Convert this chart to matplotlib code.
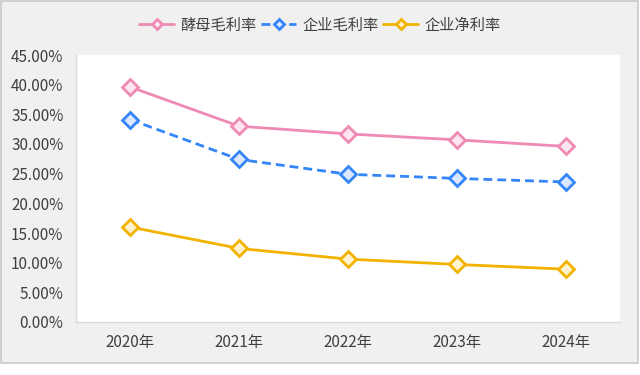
import matplotlib
matplotlib.use('Agg')
import matplotlib.pyplot as plt
from matplotlib.patches import Rectangle
from matplotlib.ticker import FuncFormatter, MultipleLocator

plt.rcParams['font.family'] = ['Noto Sans CJK SC', 'DejaVu Sans']

# data
years = ['2020年', '2021年', '2022年', '2023年', '2024年']
yeast_margin = [39.6, 33.0, 31.7, 30.7, 29.6]
company_margin = [34.1, 27.4, 24.9, 24.2, 23.6]
company_net = [16.0, 12.4, 10.6, 9.7, 8.9]

series = [
    ('酵母毛利率', yeast_margin, '#ee8ab4', '#fde6ef', '-'),
    ('企业毛利率', company_margin, '#3385f8', '#dbe8ff', '--'),
    ('企业净利率', company_net, '#f2b300', '#fff2cc', '-'),
]

fig = plt.figure(figsize=(6.4, 3.75), dpi=100)
fig.patch.set_facecolor('white')
# gray chart panel with thin border
fig.patches.append(Rectangle((1 / 640, 1 - 363 / 375), 637 / 640, 362 / 375,
                             transform=fig.transFigure, facecolor='#f0f0f0',
                             edgecolor='#c8c8c8', linewidth=1.2, zorder=-10))

ax = fig.add_axes([76 / 640, 1 - 322 / 375, 544 / 640, 267 / 375])
ax.set_facecolor('white')

x = list(range(len(years)))
for name, vals, col, fill, ls in series:
    line, = ax.plot(x, vals, color=col, linewidth=2.0, linestyle=ls,
                    marker='D', markersize=8, markerfacecolor=fill,
                    markeredgecolor=col, markeredgewidth=2.0, label=name,
                    solid_capstyle='round', clip_on=False, zorder=3)
    if ls == '--':
        line.set_dashes((3.2, 1.8))

ax.set_xlim(-0.5, len(years) - 0.5)
ax.set_ylim(0, 45)
ax.yaxis.set_major_locator(MultipleLocator(5))
ax.yaxis.set_major_formatter(FuncFormatter(lambda v, p: f'{v:.2f}%'))
ax.set_xticks(x)
ax.set_xticklabels(years)
ax.tick_params(axis='both', length=0, labelsize=11, labelcolor='#404040')
ax.tick_params(axis='y', pad=9)
ax.tick_params(axis='x', pad=9)

for s in ['top', 'right']:
    ax.spines[s].set_visible(False)
for s in ['left', 'bottom']:
    ax.spines[s].set_color('#d9d9d9')
    ax.spines[s].set_linewidth(1.0)

leg = fig.legend(loc='center', bbox_to_anchor=(320 / 640, 1 - 25 / 375), ncol=3,
                 frameon=False, fontsize=11, handlelength=2.3, handletextpad=0.4,
                 columnspacing=0.3, markerscale=0.65)
for t in leg.get_texts():
    t.set_color('#404040')

fig.savefig('out.png', dpi=100, facecolor=fig.get_facecolor())
